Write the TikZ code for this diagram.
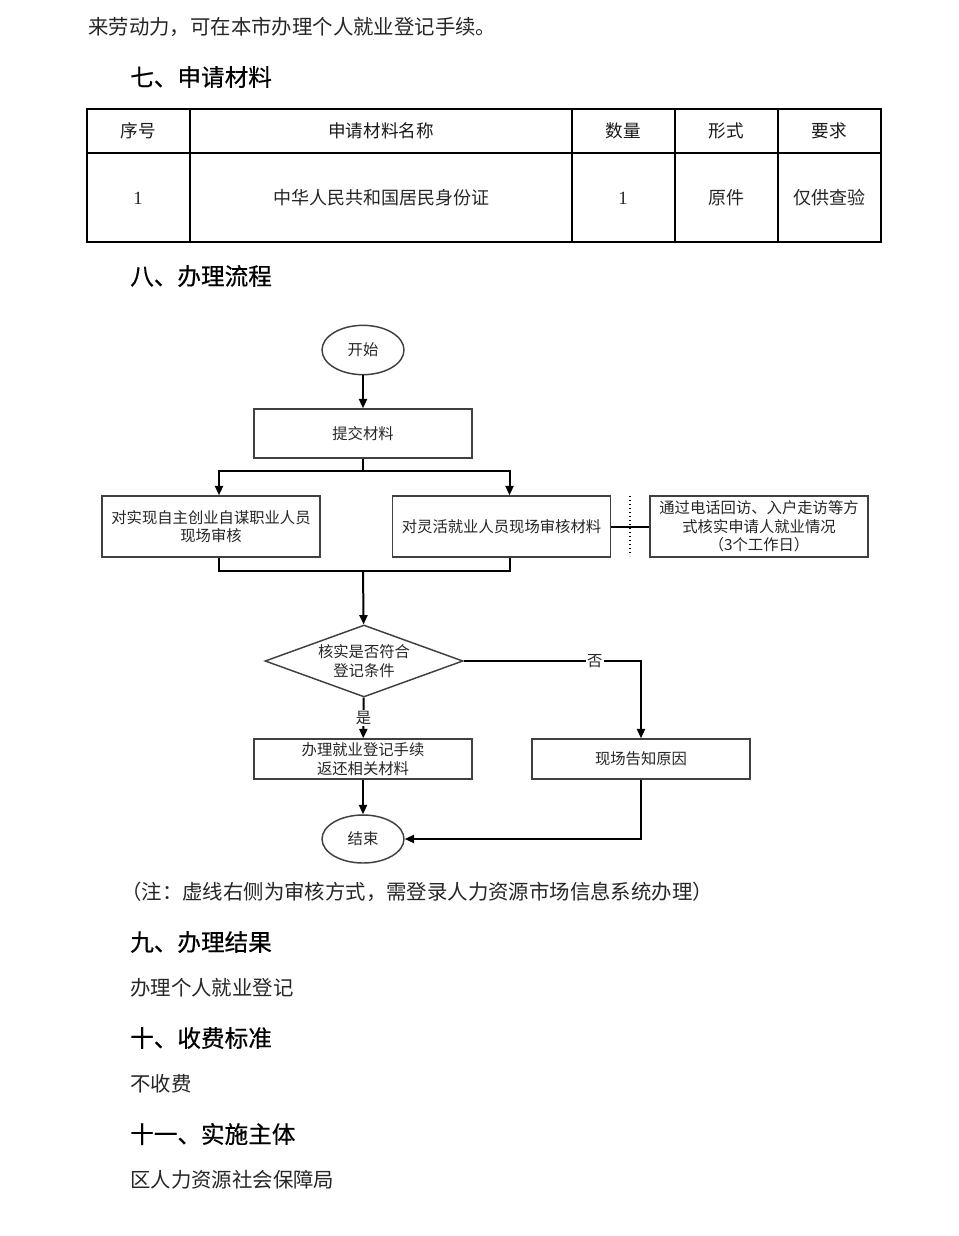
\documentclass[tikz,border=0pt]{standalone}
\usepackage{fontspec}
\setmainfont{Noto Sans CJK SC}
\newfontfamily\hei[FakeBold=0.5]{Noto Sans CJK SC}
\newfontfamily\numfont{Liberation Serif}
\usetikzlibrary{arrows.meta,shapes.geometric}
\begin{document}
\begin{tikzpicture}[x=0.75pt,y=-0.75pt,
  body/.style={anchor=west,inner sep=0,text=black!85,font=\fontsize{15.3}{18}\selectfont},
  head/.style={anchor=west,inner sep=0,text=black,font=\hei\fontsize{17.7}{21}\selectfont},
  th/.style={inner sep=0,text=black!90,font=\fontsize{13.2}{16}\selectfont},
  td/.style={inner sep=0,text=black!85,font=\fontsize{13.5}{16}\selectfont},
  tline/.style={line width=1.6pt,black},
  fl/.style={text=black!85,font=\fontsize{11.5}{14}\selectfont,align=center},
  fbox/.style={fl,draw=black!75,line width=1.1pt,minimum width=163.5pt,inner sep=0},
  term/.style={fl,draw=black!75,line width=1.1pt,ellipse,minimum width=61.5pt,minimum height=37pt,inner sep=0},
  conn/.style={line width=1.5pt,black},
  arr/.style={conn,-{Triangle[length=7pt,width=6pt]}},
  lab/.style={fl,fill=white,inner sep=1pt}
]
\useasboundingbox (0,0) rectangle (958,1236);
\fill[white] (0,0) rectangle (958,1236);

% top text
\node[body] (l1) at (88,27) {来劳动力，可在本市办理个人就业登记手续。};
\node[head] (h7) at (130,77) {七、申请材料};

% table
\draw[line width=2.2pt] (87,109) rectangle (881,242);
\draw[tline] (87,153) -- (881,153);
\foreach \cx in {190,572,675,778} \draw[tline] (\cx,109) -- (\cx,242);
\node[th] (c1) at (138,131) {序号};
\node[th] (c2) at (381,131) {申请材料名称};
\node[th] (c3) at (623,131) {数量};
\node[th] (c4) at (726,131) {形式};
\node[th] (c5) at (829,131) {要求};
\node[td,font=\numfont\fontsize{14}{16}\selectfont] (d1) at (138,198) {1};
\node[td] (d2) at (381,198) {中华人民共和国居民身份证};
\node[td,font=\numfont\fontsize{14}{16}\selectfont] (d3) at (623,198) {1};
\node[td] (d4) at (726,198) {原件};
\node[td] (d5) at (829,198) {仅供查验};

\node[head] (h8) at (130,276) {八、办理流程};

% flowchart
\node[term] (start) at (363,350) {开始};
\node[fbox,minimum height=36.75pt] (submit) at (363,433.5) {提交材料};
\node[fbox,minimum height=45.75pt] (left) at (211,526.5) {对实现自主创业自谋职业人员\\现场审核};
\node[fbox,minimum height=45.75pt] (mid) at (501.5,526.5) {对灵活就业人员现场审核材料};
\node[fbox,minimum height=45.75pt] (right) at (759,526.5) {通过电话回访、入户走访等方\\式核实申请人就业情况\\（3个工作日）};
\node[fl,draw=black!75,line width=1.1pt,shape=diamond,aspect=2.75,inner sep=0,minimum width=148.5pt,minimum height=54pt] (dec) at (364,661) {核实是否符合\\登记条件};
\node[fbox,minimum height=30pt] (handle) at (363,759) {办理就业登记手续\\返还相关材料};
\node[fbox,minimum height=30pt] (notify) at (641,759) {现场告知原因};
\node[term,minimum height=36pt] (end) at (363,839) {结束};

\coordinate (split) at (363,471);
\coordinate (merge) at (363,571);
\coordinate (dtop) at (630,496);
\coordinate (dbot) at (630,556);

\draw[arr] (start) -- (submit);
\draw[conn] (submit) -- (split);
\draw[arr] (split) -| ([xshift=6pt]left.north);
\draw[arr] (split) -| ([xshift=6pt]mid.north);
\draw[conn] ([xshift=6pt]left.south) |- (merge);
\draw[conn] ([xshift=6pt]mid.south) |- (merge);
\draw[arr] (merge) -- (dec);
\draw[conn] (mid) -- (right);
\draw[line width=1pt,dotted] (dtop) -- (dbot);
\draw[arr] (dec) -- node[lab] (yes) {是} (handle);
\draw[arr] (dec.east) -| node[lab,pos=0.37] (no) {否} (notify.north);
\draw[arr] (handle) -- (end);
\draw[arr] (notify.south) |- (end.east);

% bottom text
\node[body] (note) at (121,892) {（注：虚线右侧为审核方式，需登录人力资源市场信息系统办理）};
\node[head] (h9) at (130,942) {九、办理结果};
\node[body] (t9) at (130,988) {办理个人就业登记};
\node[head] (h10) at (130,1038) {十、收费标准};
\node[body] (t10) at (130,1084) {不收费};
\node[head] (h11) at (130,1134) {十一、实施主体};
\node[body] (t11) at (130,1180) {区人力资源社会保障局};
\end{tikzpicture}
\end{document}
